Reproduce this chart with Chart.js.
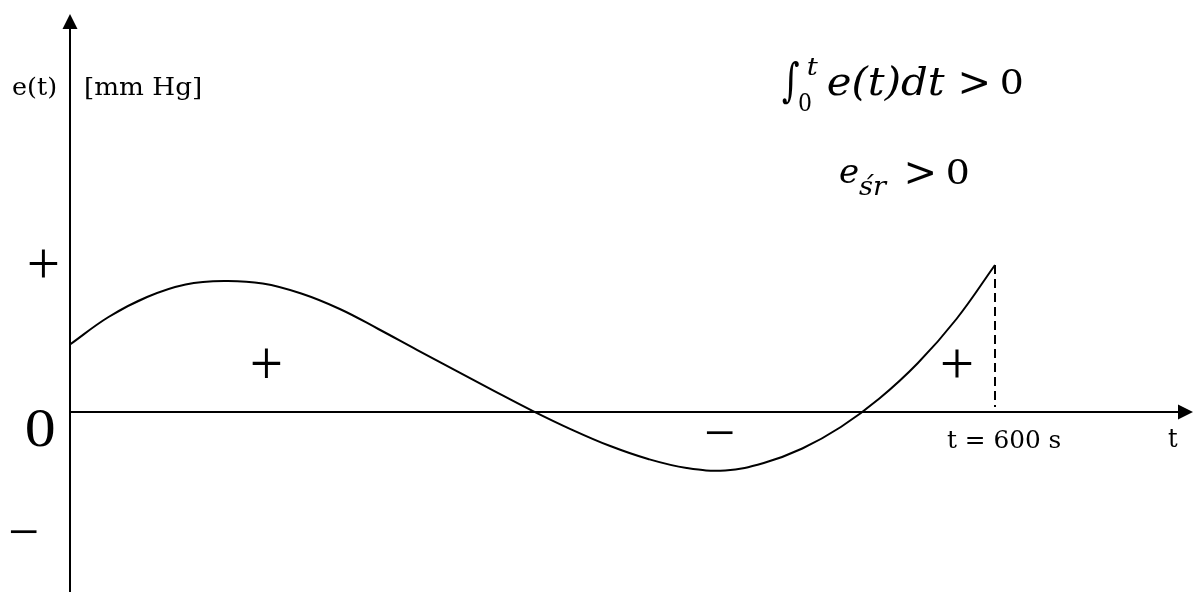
<!DOCTYPE html>
<html><head><meta charset="utf-8">
<script src="https://cdn.jsdelivr.net/npm/chart.js@4.4.1/dist/chart.umd.min.js"></script>
<style>html,body{margin:0;padding:0;background:#fff;overflow:hidden}#wrap{width:1193px;height:592px}</style>
</head><body><div id="wrap"><canvas id="c" width="1193" height="592"></canvas></div>
<script>
// ---- data ----
const timeSeconds = [0, 25, 50, 75, 100, 125, 150, 175, 200, 225, 250, 275, 300, 325, 350, 375, 400, 425, 450, 475, 500, 525, 550, 575, 600];
const errorValues = [6.75, 9.5, 11.5, 12.75, 13.1, 12.85, 11.85, 10.3, 8.3, 6.22, 4.17, 2.12, 0.12, -1.73, -3.38, -4.7, -5.6, -5.85, -5.1, -3.65, -1.5, 1.35, 4.9, 9.3, 14.7];
const endTime = 600;
const yAxisLabel = 'e(t)';
const yUnitLabel = '[mm Hg]';
const xEndLabel = 't = 600 s';
const xAxisLabel = 't';
const axisSignLabels = ['+', '0', '\u2212'];
const areaSignLabels = ['+', '\u2212', '+'];
const formulaLines = ['\u222B', 't', '0', 'e(t)dt', '>', '0', 'e', '\u015Br', '>', '0'];

function fitText(ctx, text, font, x0, y0, x1, y1) {
  ctx.save();
  ctx.font = font;
  ctx.textAlign = 'left';
  ctx.textBaseline = 'alphabetic';
  const m = ctx.measureText(text);
  const l = -m.actualBoundingBoxLeft, r = m.actualBoundingBoxRight;
  const t = -m.actualBoundingBoxAscent, b = m.actualBoundingBoxDescent;
  const sx = (x1 - x0) / Math.max(0.5, (r - l));
  const sy = (y1 - y0) / Math.max(0.5, (b - t));
  ctx.translate(x0, y0);
  ctx.scale(sx, sy);
  ctx.fillStyle = '#000';
  ctx.fillText(text, -l, -t);
  ctx.restore();
}

const axesPlugin = {
  id: 'axesPlugin',
  afterDatasetsDraw(chart) {
    const ctx = chart.ctx;
    const xs = chart.scales.x, ys = chart.scales.y;
    const X = v => xs.getPixelForValue(v), Y = v => ys.getPixelForValue(v);
    const x0 = X(0), y0 = Y(0);
    const ca = chart.chartArea;
    ctx.save();
    ctx.strokeStyle = '#000';
    ctx.fillStyle = '#000';
    ctx.lineWidth = 2;
    // vertical axis
    const yTip = Y(39.8);
    ctx.beginPath(); ctx.moveTo(x0, ca.bottom); ctx.lineTo(x0, yTip + 10); ctx.stroke();
    ctx.beginPath(); ctx.moveTo(x0, yTip); ctx.lineTo(x0 - 7.5, yTip + 15); ctx.lineTo(x0 + 7.5, yTip + 15); ctx.closePath(); ctx.fill();
    // horizontal axis
    const xTip = ca.right;
    ctx.beginPath(); ctx.moveTo(x0, y0); ctx.lineTo(xTip - 10, y0); ctx.stroke();
    ctx.beginPath(); ctx.moveTo(xTip, y0); ctx.lineTo(xTip - 15, y0 - 7.5); ctx.lineTo(xTip - 15, y0 + 7.5); ctx.closePath(); ctx.fill();
    // dashed end line
    const xe = X(endTime);
    const ye = Y(errorValues[errorValues.length - 1]);
    ctx.setLineDash([9, 5]);
    ctx.beginPath(); ctx.moveTo(xe, ye); ctx.lineTo(xe, y0 - 5); ctx.stroke();
    ctx.setLineDash([]);
    ctx.restore();

    const serif = '"DejaVu Serif", serif';
    const times = '"Liberation Serif", serif';
    // axis labels
    fitText(ctx, yAxisLabel, '26px ' + serif, 13, 77, 56, 100);
    fitText(ctx, yUnitLabel, '26px ' + serif, 86, 77, 200, 100);
    fitText(ctx, xEndLabel, '24px ' + serif, 947, 429, 1061, 447.5);
    fitText(ctx, xAxisLabel, '24px ' + serif, 1168, 428, 1178, 447);
    // axis signs
    fitText(ctx, axisSignLabels[0], '55px ' + times, 29, 250, 58, 278);
    fitText(ctx, axisSignLabels[1], '55px ' + times, 27, 410, 54, 447);
    fitText(ctx, axisSignLabels[2], '55px ' + times, 10, 530, 37, 534);
    // area signs
    fitText(ctx, areaSignLabels[0], '55px ' + times, 252, 349, 281, 379);
    fitText(ctx, areaSignLabels[1], '55px ' + times, 706, 431, 733, 435);
    fitText(ctx, areaSignLabels[2], '55px ' + times, 942, 350, 972, 378);
    // formulas
    const it = 'italic 34px ' + serif;
    fitText(ctx, formulaLines[0], '40px ' + serif, 782, 60, 799, 105);
    fitText(ctx, formulaLines[1], 'italic 22px ' + serif, 808, 58, 818, 75);
    fitText(ctx, formulaLines[2], '22px ' + serif, 799, 94, 811, 111);
    fitText(ctx, formulaLines[3], it, 828, 65, 945, 102);
    fitText(ctx, formulaLines[4], '34px ' + serif, 961, 72, 987, 95);
    fitText(ctx, formulaLines[5], '34px ' + serif, 1002, 70, 1022, 94);
    fitText(ctx, formulaLines[6], it, 840, 165, 858, 183);
    fitText(ctx, formulaLines[7], 'italic 22px ' + serif, 859, 173, 888, 195);
    fitText(ctx, formulaLines[8], '34px ' + serif, 907, 162, 933, 185);
    fitText(ctx, formulaLines[9], '34px ' + serif, 948, 159, 968, 184);
  }
};

new Chart(document.getElementById('c'), {
  type: 'line',
  data: {
    datasets: [{
      data: timeSeconds.map((t, i) => ({ x: t, y: errorValues[i] })),
      borderColor: '#000',
      borderWidth: 2,
      pointRadius: 0,
      fill: false,
      tension: 0.4
    }]
  },
  options: {
    responsive: false,
    animation: false,
    events: [],
    layout: { padding: 0 },
    plugins: { legend: { display: false }, title: { display: false }, tooltip: { enabled: false } },
    scales: {
      x: { type: 'linear', display: false, min: -70 * 600 / 925, max: 1123 * 600 / 925 },
      y: { type: 'linear', display: false, min: -18, max: 41.2 }
    }
  },
  plugins: [axesPlugin]
});
</script>
</body></html>
